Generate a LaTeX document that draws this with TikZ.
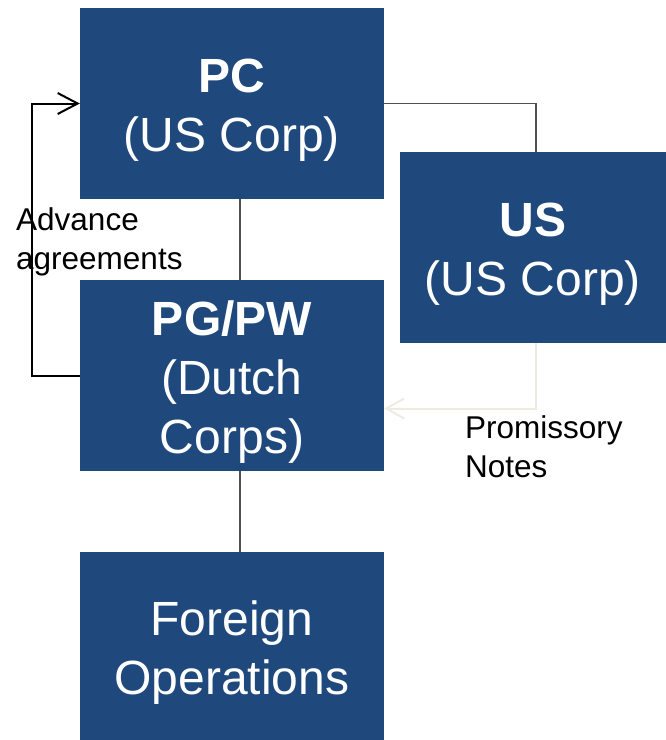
\documentclass[tikz,border=0pt]{standalone}
\usepackage{fontspec}
\setmainfont{Liberation Sans}
\usetikzlibrary{arrows.meta}
\definecolor{boxblue}{HTML}{1F497D}
\definecolor{notecol}{HTML}{EEECE1}
\definecolor{linkgrey}{HTML}{4F4F4F}
\newcommand{\boxstrut}{\rule{0pt}{47pt}}

\begin{document}
\begin{tikzpicture}[line join=miter,x=1pt,y=-1pt,
  box/.style={fill=boxblue,text=white,minimum width=304pt,minimum height=191pt,
    inner sep=0pt,align=center,font=\fontsize{48}{59}\selectfont},
  link/.style={draw=linkgrey,line width=1.4pt},
  lbl/.style={inner sep=0pt,align=left,font=\fontsize{31.5}{39}\selectfont}]
\useasboundingbox (0,0) rectangle (666,740);
%
\node[box] (pc) at (232,103.5) {\boxstrut\textbf{PC}\\(US Corp)};
\node[box,minimum width=266pt] (us) at (533,247.5) {\boxstrut\textbf{US}\\(US Corp)};
\node[box] (pg) at (232,375.5) {\boxstrut\textbf{PG/PW}\\(Dutch\\Corps)};
\node[box,minimum height=188pt] (fo) at (232,646) {\boxstrut Foreign\\Operations};
%
\draw[link] ([xshift=8pt]pc.south) -- ([xshift=8pt]pg.north);
\draw[link] ([xshift=8pt]pg.south) -- ([xshift=8pt]fo.north);
\draw[link] (pc.east) -| ([xshift=3pt]us.north);
%
\draw[line width=2pt,-{Straight Barb[length=20pt,width=21pt,line width=2pt]}]
  (pg.west) -- ++(-48,0) |- (pc.west);
\draw[notecol,line width=2pt,-{Straight Barb[length=18pt,width=20pt,line width=2pt]}]
  ([xshift=3pt]us.south) |- ([yshift=-33pt]pg.east);
%
\node[lbl,anchor=west] (adv) at (16,242) {Advance\\agreements};
\node[lbl,anchor=west] (notes) at (465,447) {Promissory\\Notes};
\end{tikzpicture}
\end{document}
